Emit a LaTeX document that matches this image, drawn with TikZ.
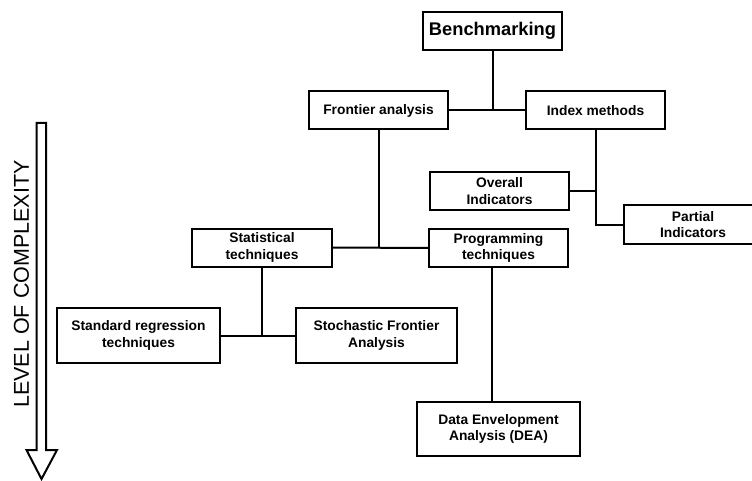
\documentclass[tikz,border=0pt]{standalone}
\usepackage{fontspec}
\setmainfont{Liberation Sans}
\begin{document}
\begin{tikzpicture}[x=1pt,y=-1pt,
  box/.style={draw, line width=2pt, align=center, inner sep=0pt,
    font=\bfseries\fontsize{13.8}{16.5}\selectfont},
  small/.style={box, minimum width=139pt, minimum height=38pt},
  big/.style={box, minimum width=162pt, minimum height=55pt},
  conn/.style={line width=2pt}]
\useasboundingbox (0,0) rectangle (752,481);
\clip (0,0) rectangle (752,481);
% nodes
\node[small, font=\bfseries\fontsize{18.3}{22}\selectfont] (bench) at (492.5,31) {Benchmarking};
\node[small] (frontier) at (378.5,110.5) {Frontier analysis};
\node[small] (index) at (595.5,110.5) {Index methods};
\node[small] (overall) at (499.5,191) {Overall\\Indicators};
\node[small] (partial) at (693,224.5) {Partial\\Indicators};
\node[small, minimum width=140pt] (stat) at (262,247.5) {Statistical\\techniques};
\node[small] (prog) at (498.5,248) {Programming\\techniques};
\node[big, minimum width=163pt] (std) at (138.5,335.5) {Standard regression\\techniques};
\node[big, minimum width=161pt] (sfa) at (376.5,335.5) {Stochastic Frontier\\Analysis};
\node[big, minimum width=163pt, minimum height=54pt] (dea) at (498.5,429) {Data Envelopment\\Analysis (DEA)};
% connectors
\draw[conn] (bench.south) -- (bench.south |- frontier.east);
\draw[conn] (frontier.east) -- (index.west);
\draw[conn] (index.south) |- (partial.west);
\draw[conn] (overall.east) -- (overall.east -| index.south);
\draw[conn] (frontier.south) -- (frontier.south |- stat.east);
\draw[conn] (stat.east) -- (prog.west);
\draw[conn] (stat.south) -- (stat.south |- std.east);
\draw[conn] (std.east) -- (sfa.west);
\draw[conn] ([xshift=-6.5pt]prog.south) -- ([xshift=-6.5pt]dea.north);
% complexity arrow
\draw[line width=2pt, line join=miter] (36.5,123) -- (46,123) -- (46,450) -- (57,450)
  -- (41.5,479) -- (26.5,450) -- (36.5,450) -- cycle;
\node[rotate=90, inner sep=0pt, font=\fontsize{21.5}{24}\selectfont] (lvl) at (21.5,284) {LEVEL OF COMPLEXITY};
\end{tikzpicture}
\end{document}
